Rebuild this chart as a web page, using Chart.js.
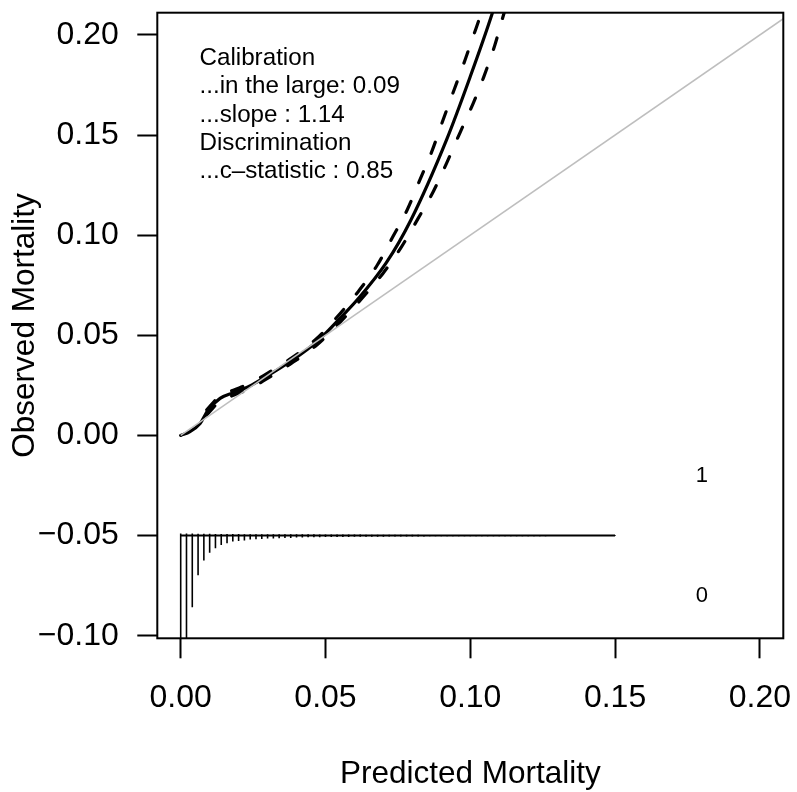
<!DOCTYPE html>
<html>
<head>
<meta charset="utf-8">
<script src="https://cdn.jsdelivr.net/npm/chart.js@4.4.1/dist/chart.umd.min.js"></script>
<style>
html,body{margin:0;padding:0;background:#fff;}
#wrap{width:797px;height:792px;}
</style>
</head>
<body>
<div id="wrap"><canvas id="c" width="797" height="792"></canvas></div>
<script>
// ---- data ----
const xTickValues = [0, 0.05, 0.10, 0.15, 0.20];
const xTickLabels = ["0.00", "0.05", "0.10", "0.15", "0.20"];
const yTickValues = [-0.10, -0.05, 0, 0.05, 0.10, 0.15, 0.20];
const yTickLabels = ["\u22120.10", "\u22120.05", "0.00", "0.05", "0.10", "0.15", "0.20"];

// ideal line
const idealX = [0, 0.25];
const idealY = [0, 0.25];

// smoothed calibration curve
const calX = [0, 0.0032, 0.0067, 0.0095, 0.0136, 0.0182, 0.0239, 0.0285, 0.0377, 0.047, 0.055, 0.0609, 0.0709, 0.0795, 0.0918, 0.0997, 0.1076, 0.112];
const calY = [0, 0.0019, 0.0060, 0.0127, 0.0185, 0.0213, 0.0247, 0.0285, 0.0368, 0.0468, 0.0585, 0.0676, 0.0860, 0.1076, 0.1476, 0.1780, 0.2108, 0.232];

// upper confidence limit
const upX = [0.009, 0.0136, 0.0182, 0.0239, 0.0285, 0.0377, 0.047, 0.055, 0.0613, 0.0679, 0.0733, 0.0782, 0.0826, 0.0867, 0.0906, 0.0944, 0.0982, 0.1018, 0.1060];
const upY = [0.0128, 0.0198, 0.0226, 0.0260, 0.0298, 0.0381, 0.0484, 0.0608, 0.0718, 0.0851, 0.0993, 0.1126, 0.1276, 0.1417, 0.1575, 0.1725, 0.1875, 0.2025, 0.2200];

// lower confidence limit
const loX = [0.009, 0.0136, 0.0182, 0.0239, 0.0285, 0.0377, 0.047, 0.055, 0.0636, 0.0699, 0.0763, 0.0820, 0.0872, 0.0918, 0.0964, 0.1009, 0.1047, 0.1085, 0.1113, 0.1140];
const loY = [0.0102, 0.0172, 0.0200, 0.0234, 0.0272, 0.0355, 0.0452, 0.0565, 0.0701, 0.0810, 0.0943, 0.1084, 0.1217, 0.1359, 0.1510, 0.1655, 0.1792, 0.1950, 0.2091, 0.2220];

// spike histogram of predictions (bins), baseline at -0.05
const histBase = -0.05;
const histRange = [0, 0.15];
const spikeX = [0.000, 0.002, 0.004, 0.006, 0.008, 0.010, 0.012, 0.014, 0.016, 0.018,
                0.020, 0.022, 0.024, 0.026, 0.028, 0.030, 0.032, 0.034, 0.036, 0.038,
                0.040, 0.042, 0.044, 0.046, 0.048, 0.050, 0.052, 0.054, 0.056, 0.058,
                0.060, 0.062, 0.064, 0.066, 0.068, 0.070, 0.072, 0.074, 0.076, 0.078,
                0.080, 0.082, 0.084, 0.086, 0.088, 0.090, 0.092, 0.094, 0.096, 0.098,
                0.100, 0.102, 0.104, 0.106, 0.108, 0.110, 0.112, 0.114, 0.116, 0.118,
                0.120, 0.122, 0.124, 0.126, 0.128, 0.130, 0.132, 0.134, 0.136, 0.138,
                0.140, 0.142, 0.144, 0.146, 0.148, 0.150];
// heights of spikes for outcome 0 (drawn downward)
const spike0 = [0.0750, 0.0620, 0.0358, 0.0198, 0.0125, 0.0086, 0.0063, 0.0047, 0.0038, 0.0030,
                0.0027, 0.0025, 0.0020, 0.0018, 0.0017, 0.0015, 0.0015, 0.0013, 0.0012, 0.0012,
                0.0010, 0.0010, 0.0008, 0.0008, 0.0008, 0.0007, 0.0007, 0.0007, 0.0007, 0.0007,
                0.0006, 0.0006, 0.0006, 0.0006, 0.0006, 0.0006, 0.0005, 0.0005, 0.0005, 0.0005,
                0.0005, 0.0005, 0.0005, 0.0004, 0.0004, 0.0004, 0.0004, 0.0004, 0.0004, 0.0004,
                0.0004, 0.0003, 0.0003, 0.0003, 0.0003, 0.0003, 0.0003, 0.0003, 0.0003, 0.0003,
                0.0003, 0.0003, 0.0003, 0.0003, 0.0002, 0.0002, 0.0002, 0.0002, 0.0002, 0.0002,
                0.0002, 0.0002, 0.0002, 0.0002, 0.0002, 0.0002];
// heights of spikes for outcome 1 (drawn upward)
const spike1 = [0.0010, 0.0010, 0.0010, 0.0009, 0.0009, 0.0009, 0.0008, 0.0008, 0.0008, 0.0008,
                0.0008, 0.0007, 0.0007, 0.0007, 0.0007, 0.0007, 0.0007, 0.0006, 0.0006, 0.0006,
                0.0006, 0.0006, 0.0006, 0.0006, 0.0005, 0.0005, 0.0005, 0.0005, 0.0005, 0.0005,
                0.0005, 0.0005, 0.0004, 0.0004, 0.0004, 0.0004, 0.0004, 0.0004, 0.0004, 0.0004,
                0.0004, 0.0004, 0.0003, 0.0003, 0.0003, 0.0003, 0.0003, 0.0003, 0.0003, 0.0003,
                0.0003, 0.0003, 0.0003, 0.0003, 0.0003, 0.0002, 0.0002, 0.0002, 0.0002, 0.0002,
                0.0002, 0.0002, 0.0002, 0.0002, 0.0002, 0.0002, 0.0002, 0.0002, 0.0002, 0.0002,
                0.0002, 0.0002, 0.0002, 0.0002, 0.0002, 0.0002];

const statLines = ["Calibration", "...in the large: 0.09", "...slope : 1.14", "Discrimination", "...c\u2013statistic : 0.85"];
const outcomeLabels = [{text: "1", x: 0.18, y: -0.02}, {text: "0", x: 0.18, y: -0.08}];
const xTitle = "Predicted Mortality";
const yTitle = "Observed Mortality";

// ---- build ----
const FONT = '"Liberation Sans", Arial, Helvetica, sans-serif';
const zip = (xs, ys) => xs.map((x, i) => ({x: x, y: ys[i]}));

const spikePts = [];
spikeX.forEach((x, i) => {
  spikePts.push({x: x, y: histBase}, {x: x, y: histBase - spike0[i]}, {x: x, y: null});
  spikePts.push({x: x, y: histBase}, {x: x, y: histBase + spike1[i]}, {x: x, y: null});
});

const noPad = s => { s.paddingTop = 0; s.paddingBottom = 0; s.paddingLeft = 0; s.paddingRight = 0; };

const overlay = {
  id: 'overlay',
  afterDatasetsDraw(chart) {
    const ctx = chart.ctx, a = chart.chartArea;
    const xs = chart.scales.x, ys = chart.scales.y;
    ctx.save();
    ctx.strokeStyle = '#000';
    ctx.lineWidth = 2;
    ctx.strokeRect(a.left, a.top, a.right - a.left, a.bottom - a.top);
    ctx.fillStyle = '#000';
    ctx.font = '24.2px ' + FONT;
    ctx.textAlign = 'left';
    ctx.textBaseline = 'alphabetic';
    statLines.forEach((t, i) => ctx.fillText(t, a.left + 42.2, a.top + 52.3 + i * 28.3));
    ctx.font = '22px ' + FONT;
    ctx.textAlign = 'center';
    ctx.textBaseline = 'middle';
    outcomeLabels.forEach(o => ctx.fillText(o.text, xs.getPixelForValue(o.x), ys.getPixelForValue(o.y)));
    ctx.font = '31.5px ' + FONT;
    ctx.textBaseline = 'alphabetic';
    ctx.fillText(xTitle, (a.left + a.right) / 2, a.bottom + 145);
    ctx.translate(34, (a.top + a.bottom) / 2);
    ctx.rotate(-Math.PI / 2);
    ctx.fillText(yTitle, 0, 0);
    ctx.restore();
  }
};

new Chart(document.getElementById('c'), {
  type: 'scatter',
  data: {
    datasets: [
      {data: zip(idealX, idealY), showLine: true, borderColor: '#bebebe', borderWidth: 1.5, pointRadius: 0},
      {data: spikePts, showLine: true, spanGaps: false, borderColor: '#000', borderWidth: 1.6, pointRadius: 0, borderCapStyle: 'butt'},
      {data: [{x: histRange[0], y: histBase}, {x: histRange[1], y: histBase}], showLine: true, borderColor: '#000', borderWidth: 2, pointRadius: 0},
      {data: zip(upX, upY), showLine: true, borderColor: '#000', borderWidth: 3.2, borderDash: [12, 20], borderCapStyle: 'round', cubicInterpolationMode: 'monotone', pointRadius: 0},
      {data: zip(loX, loY), showLine: true, borderColor: '#000', borderWidth: 3.2, borderDash: [12, 20], borderCapStyle: 'round', cubicInterpolationMode: 'monotone', pointRadius: 0},
      {data: zip(calX, calY), showLine: true, borderColor: '#000', borderWidth: 3.2, borderCapStyle: 'round', cubicInterpolationMode: 'monotone', pointRadius: 0}
    ]
  },
  options: {
    responsive: false,
    animation: false,
    devicePixelRatio: 1,
    layout: {padding: {top: 12.7, right: 13.7, left: 0, bottom: 0}},
    plugins: {legend: {display: false}, tooltip: {enabled: false}},
    scales: {
      x: {
        type: 'linear', min: -0.00808, max: 0.2081,
        afterBuildTicks: s => { s.ticks = xTickValues.map(v => ({value: v})); },
        afterFit: s => { s.height = 153.7; noPad(s); },
        grid: {display: true, drawOnChartArea: false, drawTicks: true, tickLength: 20, tickColor: '#000', tickWidth: 2},
        border: {display: false},
        ticks: {
          color: '#000', font: {family: FONT, size: 32}, padding: 21, maxRotation: 0, autoSkip: false,
          callback: (v) => { const i = xTickValues.findIndex(t => Math.abs(t - v) < 1e-9); return i >= 0 ? xTickLabels[i] : ''; }
        }
      },
      y: {
        type: 'linear', min: -0.1013, max: 0.2111,
        afterBuildTicks: s => { s.ticks = yTickValues.map(v => ({value: v})); },
        afterFit: s => { s.width = 157.3; noPad(s); },
        grid: {display: true, drawOnChartArea: false, drawTicks: true, tickLength: 20, tickColor: '#000', tickWidth: 2},
        border: {display: false},
        ticks: {
          color: '#000', font: {family: FONT, size: 32}, padding: 18.5, autoSkip: false,
          callback: (v) => { const i = yTickValues.findIndex(t => Math.abs(t - v) < 1e-9); return i >= 0 ? yTickLabels[i] : ''; }
        }
      }
    }
  },
  plugins: [overlay]
});
</script>
</body>
</html>
